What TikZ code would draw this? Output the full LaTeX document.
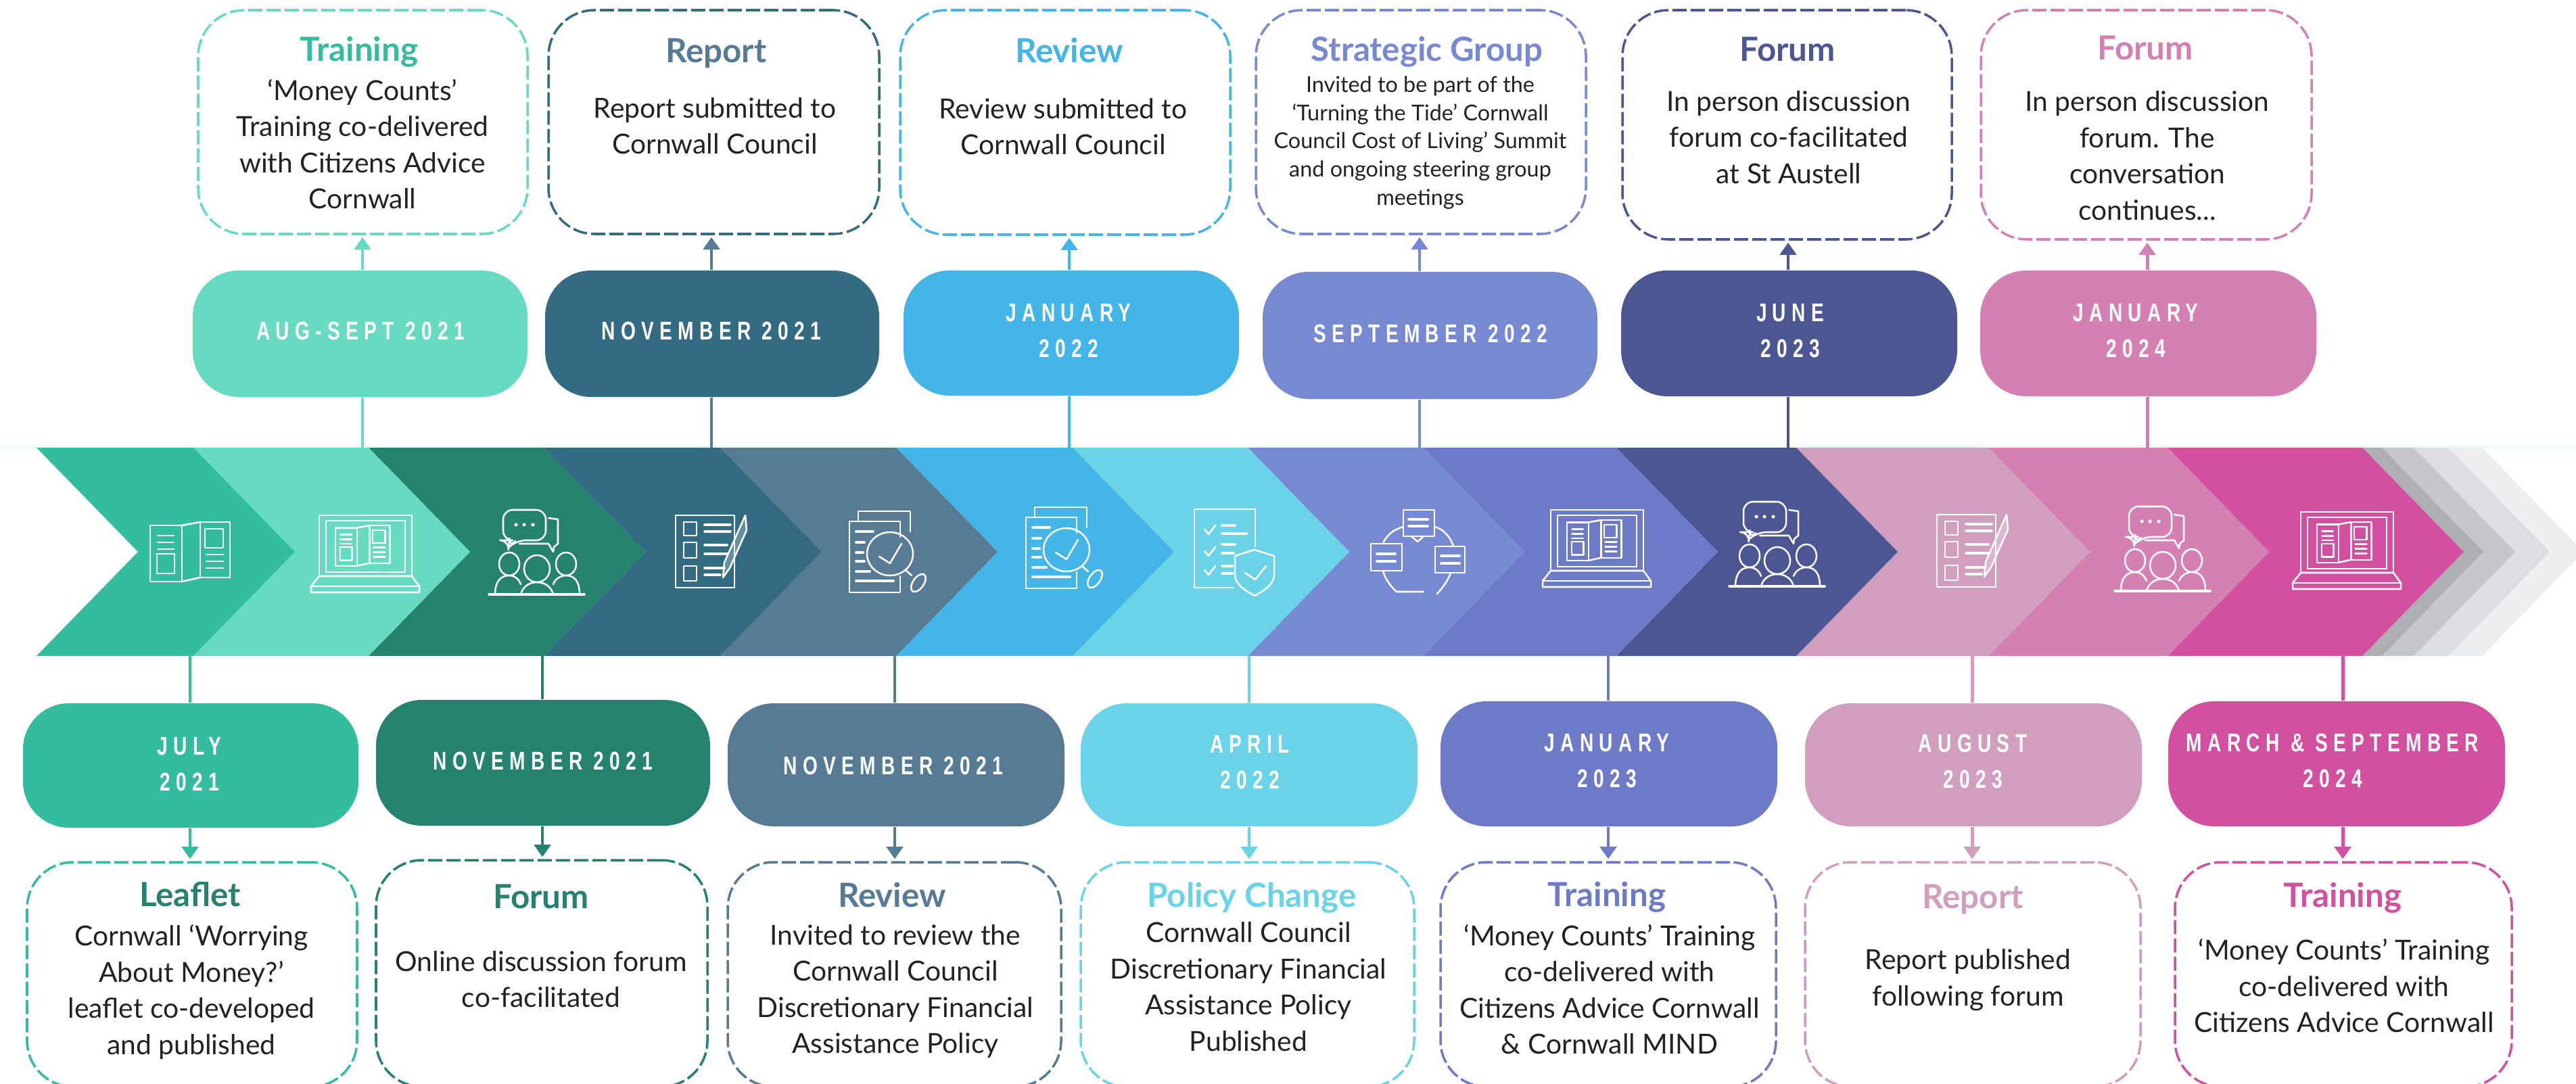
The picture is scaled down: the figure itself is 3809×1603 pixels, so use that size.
\documentclass[tikz,border=0pt]{standalone}
\usepackage{fontspec}
\usetikzlibrary{arrows.meta}
\setmainfont{Lato}
\newfontfamily\datefont[LetterSpace=22,FakeStretch=0.74]{Liberation Sans}
\definecolor{c1}{HTML}{34BC9E}\definecolor{c2}{HTML}{66DBC2}\definecolor{c3}{HTML}{25826F}
\definecolor{c4}{HTML}{336B82}\definecolor{c5}{HTML}{577B94}\definecolor{c6}{HTML}{43B5E7}
\definecolor{c7}{HTML}{6BD3E7}\definecolor{c8}{HTML}{7889D4}\definecolor{c9}{HTML}{6C7AC8}
\definecolor{c10}{HTML}{4B5692}\definecolor{c11}{HTML}{D19EBE}\definecolor{c12}{HTML}{D580B2}
\definecolor{c13}{HTML}{D34FA0}\definecolor{g1}{HTML}{ADAFB2}\definecolor{g2}{HTML}{C5C7CA}
\definecolor{g3}{HTML}{DCDEE1}\definecolor{g4}{HTML}{ECEEF0}\definecolor{bodyc}{HTML}{222222}
\tikzset{
  dbox/.style={rectangle,rounded corners=0.68cm,line width=1pt,dash pattern=on 0.21cm off 0.06cm,inner sep=0pt,fill=white},
  pill/.style={rectangle,rounded corners=0.68cm,inner sep=0pt},
  datetxt/.style={text=white,align=center,inner sep=0pt,font=\datefont\bfseries\fontsize{10.8}{15.2}\selectfont},
  titletxt/.style={align=center,inner sep=0pt,yshift=-0.06cm,text height=0.72em,text depth=0.2em,font=\bfseries\fontsize{14}{17}\selectfont},
  bodytxt/.style={text=bodyc,align=center,inner sep=0pt,font=\fontsize{11.6}{15.2}\selectfont},
  smalltxt/.style={text=bodyc,align=center,inner sep=0pt,font=\fontsize{9.2}{11.9}\selectfont},
  conn/.style={line width=1.4pt},
  arr/.style={line width=1.4pt,-{Triangle[length=0.18cm,width=0.24cm]},shorten >=0.03cm},
  ic/.style={draw=white,line width=0.72pt,line join=round,line cap=round},
}
\newcommand{\chev}[3]{\fill[#3] (#1,662) -- (#2,662) -- ({#2+150},816) -- (#2,970) -- (#1,970) -- ({#1+150},816) -- cycle;}
% name x1 y1 x2 y2 colour
\newcommand{\boxn}[6]{\node[dbox,draw=#6,minimum width={(#4-#2)*0.01cm},minimum height={(#5-#3)*0.01cm}] (#1) at ({(#2+#4)/2},{(#3+#5)/2}) {};}
\newcommand{\piln}[6]{\node[pill,fill=#6,minimum width={(#4-#2)*0.01cm},minimum height={(#5-#3)*0.01cm}] (#1) at ({(#2+#4)/2},{(#3+#5)/2}) {};}
\newcommand{\leafletshape}{%
  \draw[ic] (0,5) rectangle (47,88);
  \draw[ic] (74,0) rectangle (118,82);
  \draw[ic] (47,5) -- (74,0) (47,88) -- (74,82);
  \draw[ic] (81,10) rectangle (108,38);
  \draw[ic] (10,47) rectangle (36,76);
  \draw[ic] (11,20) -- (35,20) (11,30) -- (35,30) (11,40) -- (35,40);
  \draw[ic] (83,48) -- (108,48) (83,58) -- (108,58) (83,68) -- (108,68);
}
\newcommand{\iconleaflet}[2]{\begin{scope}[shift={(#1,#2)}]\leafletshape\end{scope}}
\newcommand{\iconlaptop}[2]{\begin{scope}[shift={(#1,#2)}]
  \draw[ic] (12,88) -- (12,0) -- (149,0) -- (149,88);
  \draw[ic] (22,84) -- (22,8) -- (139,8) -- (139,84) -- cycle;
  \draw[ic] (12,90) -- (0,105) -- (0,114) -- (160,114) -- (160,105) -- (149,90) -- cycle;
  \draw[ic] (0,105) -- (160,105);
  \begin{scope}[shift={(36,15)},scale=0.68]\leafletshape\end{scope}
\end{scope}}
\newcommand{\iconpeople}[2]{\begin{scope}[shift={(#1,#2)}]
  \draw[ic,rounded corners=4pt] (30,45) -- (21,45) -- (21,0) -- (84,0) -- (84,45) -- (40,45) -- (29,56) -- cycle;
  \draw[ic] (88,12) -- (102,14) -- (102,50) -- (96,55) -- (95,62) -- (88,50) -- (45,50);
  \fill[white] (40,22) circle (2.6) (52,22) circle (2.6) (65,22) circle (2.6);
  \draw[ic] (30,80) ellipse (15 and 17) (71,87) ellipse (19 and 20) (114,80) ellipse (15 and 17);
  \draw[ic] (9,125) .. controls (9,105) and (18,97) .. (30,97) .. controls (38,97) and (44,102) .. (47,110);
  \draw[ic] (47,125) .. controls (50,113) and (60,107) .. (71,107) .. controls (82,107) and (92,113) .. (95,125);
  \draw[ic] (95,110) .. controls (98,102) and (106,97) .. (114,97) .. controls (126,97) and (134,105) .. (134,125);
  \draw[ic,line width=1pt] (0,125) -- (141,125);
\end{scope}}
\newcommand{\iconcheck}[2]{\begin{scope}[shift={(#1,#2)}]
  \draw[ic] (0,0) rectangle (87,107);
  \draw[ic] (12,10) rectangle (31,30) (12,40) rectangle (31,63) (12,75) rectangle (31,97);
  \draw[ic,line width=1pt] (43,14) -- (81,14) (43,24) -- (81,24) (43,44) -- (76,44) (43,57) -- (76,57) (43,78) -- (72,78) (43,88) -- (66,88);
  \draw[ic,fill=white,fill opacity=0.25] (103,0) -- (105,22) -- (80,78) -- (70,92) -- (72,70) -- cycle;
\end{scope}}
\newcommand{\iconreview}[2]{\begin{scope}[shift={(#1,#2)}]
  \draw[ic] (13,15) -- (13,0) -- (90,0) -- (90,30);
  \draw[ic] (75,38) -- (75,15) -- (0,15) -- (0,120) -- (75,120) -- (75,96);
  \draw[ic] (60,63) ellipse (34 and 32);
  \draw[ic] (44,67) -- (60,77) -- (77,48);
  \draw[ic] (84,88) -- (92,95);
  \draw[ic,rotate around={-35:(102,106)}] (102,106) ellipse (8 and 15);
  \draw[ic,line width=1.1pt] (10,30) -- (35,30) (10,46) -- (22,46) (10,61) -- (20,61) (10,74) -- (22,74) (10,89) -- (30,89) (10,103) -- (65,103);
\end{scope}}
\newcommand{\iconshield}[2]{\begin{scope}[shift={(#1,#2)}]
  \draw[ic] (58,119) -- (0,119) -- (0,3) -- (90,3) -- (90,58);
  \draw[ic] (15,33) -- (21,40) -- (31,27) (15,65) -- (21,72) -- (31,59) (15,93) -- (21,100) -- (31,87);
  \draw[ic,line width=1.1pt] (41,27) -- (60,27) (41,39) -- (77,39) (41,55) -- (60,55) (41,68) -- (58,68) (41,87) -- (56,87) (41,98) -- (56,98);
  \draw[ic] (60,72) -- (89,63) -- (118,72) -- (118,100) .. controls (118,115) and (100,125) .. (89,131) .. controls (78,125) and (60,115) .. (60,100) -- cycle;
  \draw[ic] (75,97) -- (90,107) -- (106,87);
\end{scope}}
\newcommand{\iconloop}[2]{\begin{scope}[shift={(#1,#2)}]
  \draw[ic] (48,0) rectangle (94,39) (0,50) rectangle (46,90) (95,54) rectangle (139,93);
  \draw[ic] (60,39) -- (69,47) -- (78,39);
  \draw[ic] (48,25) .. controls (35,28) and (22,38) .. (18,50);
  \draw[ic] (94,25) .. controls (107,28) and (118,40) .. (122,54);
  \draw[ic] (18,90) .. controls (20,100) and (28,112) .. (38,121) -- (78,121);
  \draw[ic] (118,93) .. controls (114,105) and (106,115) .. (98,124);
  \draw[ic,line width=1.1pt] (56,14) -- (84,14) (56,24) -- (84,24) (9,65) -- (36,65) (9,76) -- (36,76) (104,68) -- (131,68) (104,79) -- (131,79);
\end{scope}}
\begin{document}
\begin{tikzpicture}[x=0.01cm,y=-0.01cm]
\clip (0,0) rectangle (3809,1603);
\fill[white] (0,0) rectangle (3809,1603);
\fill[c2!12] (0,659) rectangle (3809,662);
% grey trail
\chev{3620}{3670}{g4}\chev{3569}{3620}{g3}\chev{3522}{3569}{g2}\chev{3493}{3522}{g1}
% chevrons
\chev{3205}{3493}{c13}\chev{2940}{3205}{c12}\chev{2656}{2940}{c11}\chev{2390}{2656}{c10}
\chev{2104}{2390}{c9}\chev{1845}{2104}{c8}\chev{1586}{1845}{c7}\chev{1325}{1586}{c6}
\chev{1065}{1325}{c5}\chev{804}{1065}{c4}\chev{545}{804}{c3}\chev{286}{545}{c2}\chev{54}{286}{c1}
% icons
\iconleaflet{222}{772}\iconlaptop{460}{762}\iconpeople{723}{754}\iconcheck{999}{762}
\iconreview{1256}{756}\iconreview{1517}{750}\iconshield{1766}{750}\iconloop{2027}{754}
\iconlaptop{2281}{754}\iconpeople{2557}{742}\iconcheck{2864}{761}\iconpeople{3127}{749}\iconlaptop{3390}{757}
% anchor points on the band
\coordinate (ta) at (536,662);\coordinate (tb) at (1052,662);\coordinate (tc) at (1581,662);
\coordinate (td) at (2099,662);\coordinate (te) at (2644,662);\coordinate (tf) at (3175,662);
\coordinate (ua) at (281,970);\coordinate (ub) at (802,970);\coordinate (uc) at (1323,970);
\coordinate (ud) at (1847,970);\coordinate (ue) at (2378,970);\coordinate (uf) at (2916,970);\coordinate (ug) at (3464,970);
% top boxes
\boxn{ba}{293}{15}{780}{346}{c2}\boxn{bb}{811}{15}{1300}{346}{c4}\boxn{bc}{1331}{15}{1819}{347}{c6}
\boxn{bd}{1857}{15}{2345}{346}{c8}\boxn{be}{2399}{15}{2886}{354}{c10}\boxn{bf}{2929}{15}{3418}{354}{c12}
% top pills
\piln{pa}{285}{400}{780}{587}{c2}\piln{pb}{806}{400}{1300}{587}{c4}\piln{pc}{1336}{400}{1832}{585}{c6}
\piln{pd}{1867}{402}{2362}{590}{c8}\piln{pe}{2397}{400}{2894}{586}{c10}\piln{pf}{2928}{400}{3425}{586}{c12}
% bottom pills
\piln{qa}{34}{1040}{530}{1224}{c1}\piln{qb}{556}{1035}{1050}{1221}{c3}\piln{qc}{1076}{1040}{1574}{1222}{c5}
\piln{qd}{1598}{1040}{2096}{1222}{c7}\piln{qe}{2130}{1037}{2628}{1222}{c9}\piln{qf}{2669}{1040}{3167}{1222}{c11}\piln{qg}{3206}{1037}{3704}{1222}{c13}
% bottom boxes
\boxn{ra}{40}{1275}{528}{1607}{c1}\boxn{rb}{556}{1272}{1046}{1607}{c3}\boxn{rc}{1076}{1275}{1569}{1607}{c5}
\boxn{rd}{1598}{1275}{2091}{1607}{c7}\boxn{re}{2130}{1275}{2626}{1607}{c9}\boxn{rf}{2669}{1275}{3165}{1607}{c11}\boxn{rg}{3216}{1275}{3714}{1607}{c13}
% connectors top
\foreach \t/\p/\b/\c in {ta/pa/ba/c2,tb/pb/bb/c5,tc/pc/bc/c6,td/pd/bd/c8,te/pe/be/c10,tf/pf/bf/c12}{
  \draw[conn,\c] (\p.south -| \t) -- (\t);
  \draw[arr,\c] (\p.north -| \t) -- (\b.south -| \t);
}
% connectors bottom
\foreach \t/\p/\b/\c in {ua/qa/ra/c1,ub/qb/rb/c3,uc/qc/rc/c5,ud/qd/rd/c7,ue/qe/re/c9,uf/qf/rf/c11,ug/qg/rg/c13}{
  \draw[conn,\c] (\t) -- (\p.north -| \t);
  \draw[arr,\c] (\p.south -| \t) -- (\b.north -| \t);
}
% dates
\node[datetxt] (da) at (533,489) {AUG-SEPT 2021};
\node[datetxt] (db) at (1052,489) {NOVEMBER 2021};
\node[datetxt] (dc) at (1580,489) {JANUARY\\2022};
\node[datetxt] (dd) at (2115,493) {SEPTEMBER 2022};
\node[datetxt] (de) at (2647,489) {JUNE\\2023};
\node[datetxt] (df) at (3158,489) {JANUARY\\2024};
\node[datetxt] (ea) at (280,1130) {JULY\\2021};
\node[datetxt] (eb) at (803,1125) {NOVEMBER 2021};
\node[datetxt] (ec) at (1321,1132) {NOVEMBER 2021};
\node[datetxt] (ed) at (1848,1127) {APRIL\\2022};
\node[datetxt] (ee) at (2376,1125) {JANUARY\\2023};
\node[datetxt] (ef) at (2917,1126) {AUGUST\\2023};
\node[datetxt] (eg) at (3449,1125) {MARCH \& SEPTEMBER\\2024};
% titles
\node[titletxt,text=c1] (ta1) at (531,75) {Training};
\node[titletxt,text=c5] (tb1) at (1059,77) {Report};
\node[titletxt,text=c6] (tc1) at (1581,77) {Review};
\node[titletxt,text=c8] (td1) at (2110,75) {Strategic Group};
\node[titletxt,text=c10] (te1) at (2643,75) {Forum};
\node[titletxt,text=c12] (tf1) at (3172,73) {Forum};
\node[titletxt,text=c3] (ra1) at (281,1325) {Leaflet};
\node[titletxt,text=c3] (rb1) at (800,1328) {Forum};
\node[titletxt,text=c5] (rc1) at (1319,1326) {Review};
\node[titletxt,text=c7] (rd1) at (1851,1326) {Policy Change};
\node[titletxt,text=c9] (re1) at (2376,1325) {Training};
\node[titletxt,text=c11] (rf1) at (2917,1328) {Report};
\node[titletxt,text=c13] (rg1) at (3464,1326) {Training};
% bodies
\node[bodytxt] (ta2) at (536,213) {‘Money Counts’\\Training co-delivered\\with Citizens Advice\\Cornwall};
\node[bodytxt] (tb2) at (1057,186) {Report submitted to\\Cornwall Council};
\node[bodytxt] (tc2) at (1572,187) {Review submitted to\\Cornwall Council};
\node[smalltxt] (td2) at (2100,211) {Invited to be part of the\\‘Turning the Tide’ Cornwall\\Council Cost of Living’ Summit\\and ongoing steering group\\meetings};
\node[bodytxt] (te2) at (2645,203) {In person discussion\\forum co-facilitated\\at St Austell};
\node[bodytxt] (tf2) at (3175,230) {In person discussion\\forum. The\\conversation\\continues...};
\node[bodytxt] (ra2) at (283,1467) {Cornwall ‘Worrying\\About Money?’\\leaflet co-developed\\and published};
\node[bodytxt] (rb2) at (800,1448) {Online discussion forum\\co-facilitated};
\node[bodytxt] (rc2) at (1324,1466) {Invited to review the\\Cornwall Council\\Discretionary Financial\\Assistance Policy};
\node[bodytxt] (rd2) at (1846,1459) {Cornwall Council\\Discretionary Financial\\Assistance Policy\\Published};
\node[bodytxt] (re2) at (2380,1463) {‘Money Counts’ Training\\co-delivered with\\Citizens Advice Cornwall\\\& Cornwall MIND};
\node[bodytxt] (rf2) at (2910,1449) {Report published\\following forum};
\node[bodytxt] (rg2) at (3466,1458) {‘Money Counts’ Training\\co-delivered with\\Citizens Advice Cornwall};
\end{tikzpicture}
\end{document}
